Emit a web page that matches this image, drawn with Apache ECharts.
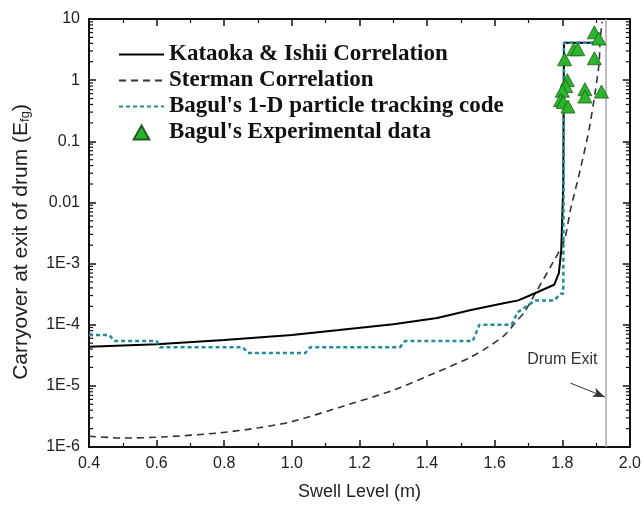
<!DOCTYPE html>
<html>
<head>
<meta charset="utf-8">
<script src="https://cdn.jsdelivr.net/npm/echarts@6/dist/echarts.min.js"></script>
<style>
  html, body { margin: 0; padding: 0; background: #fff; }
  #chart { width: 644px; height: 507px; }
</style>
</head>
<body>
<div id="chart"></div>
<script>
// Swell level (m) vs. carryover at the drum exit, log scale
const xMin = 0.4, xMax = 2.0, xStep = 0.2;
const yMin = 1e-6, yMax = 10;
const xTickLabels = ['0.4', '0.6', '0.8', '1.0', '1.2', '1.4', '1.6', '1.8', '2.0'];
const yTickLabels = ['1E-6', '1E-5', '1E-4', '1E-3', '0.01', '0.1', '1', '10'];

const kataokaIshii = [
  [0.40, 4.37e-5], [0.60, 4.8e-5], [0.80, 5.6e-5], [1.00, 6.8e-5], [1.14, 8.2e-5],
  [1.30, 1.02e-4], [1.43, 1.29e-4], [1.53, 1.74e-4], [1.63, 2.26e-4], [1.67, 2.5e-4],
  [1.726, 3.4e-4], [1.776, 4.5e-4], [1.79, 7.0e-4], [1.797, 1.66e-3], [1.803, 2.0e-2],
  [1.805, 4.07], [1.924, 4.07]
];

const sterman = [
  [0.40, 1.5e-6], [0.50, 1.4e-6], [0.62, 1.46e-6], [0.785, 1.7e-6], [0.903, 2.06e-6],
  [1.00, 2.6e-6], [1.138, 4.4e-6], [1.30, 8.5e-6], [1.432, 1.7e-5], [1.53, 2.96e-5],
  [1.58, 4.3e-5], [1.63, 6.8e-5], [1.668, 1.2e-4], [1.688, 1.6e-4], [1.726, 3.7e-4],
  [1.765, 8.8e-4], [1.806, 2.4e-3], [1.824, 7.5e-3], [1.853, 3.4e-2], [1.879, 0.153],
  [1.897, 0.62], [1.909, 1.9], [1.912, 4.5], [1.918, 9.0]
];

const bagulTracking = [
  [0.40, 6.8e-5], [0.46, 6.8e-5], [0.475, 5.4e-5], [0.60, 5.4e-5], [0.61, 4.3e-5],
  [0.855, 4.3e-5], [0.87, 3.45e-5], [1.04, 3.45e-5], [1.055, 4.3e-5], [1.32, 4.3e-5],
  [1.335, 5.4e-5], [1.535, 5.4e-5], [1.555, 1.0e-4], [1.65, 1.0e-4], [1.668, 1.6e-4],
  [1.72, 2.5e-4], [1.776, 2.5e-4], [1.795, 3.2e-4], [1.803, 3.2e-4], [1.805, 4.07],
  [1.924, 4.07]
];

const bagulExperiment = [
  [1.895, 6.05], [1.908, 4.8], [1.834, 3.2], [1.846, 3.2], [1.807, 2.19], [1.895, 2.28],
  [1.815, 1.0], [1.810, 0.80], [1.800, 0.67], [1.867, 0.71], [1.916, 0.65], [1.867, 0.54],
  [1.795, 0.47], [1.803, 0.44], [1.817, 0.37]
];

// Drum exit position and its annotation
const drumExitX = 1.926;
const drumExitArrow = [[1.824, 1.11e-5], [1.926, 6.6e-6]];
const drumExitText = [1.80, 2.65e-5];

// Minor log ticks 2..9 within each decade
const minorLogTicks = [];
for (let e = -6; e < 1; e++) {
  for (let m = 2; m <= 9; m++) minorLogTicks.push([xMin, m * Math.pow(10, e)]);
}

const textColor = '#222';
const frameColor = '#111';
const sansFont = '"Liberation Sans", Arial, sans-serif';
const serifFont = '"Liberation Serif", "Times New Roman", serif';
const triangleIcon = 'path://M5,0 L10,9 L0,9 Z';

function xLabel(v) {
  const i = Math.round((v - xMin) / xStep);
  return xTickLabels[i] !== undefined ? xTickLabels[i] : '';
}
function yLabel(v) {
  const i = Math.round(Math.log10(v)) - Math.round(Math.log10(yMin));
  return yTickLabels[i] !== undefined ? yTickLabels[i] : '';
}

const chart = echarts.init(document.getElementById('chart'), null, { renderer: 'canvas' });

const baseX = {
  type: 'value', min: xMin, max: xMax, interval: xStep,
  axisLine: { show: true, onZero: false, lineStyle: { color: frameColor, width: 2 } },
  axisTick: { show: true, inside: true, length: 7, lineStyle: { color: frameColor, width: 1.5 } },
  minorTick: { show: true, splitNumber: 2, length: 4, lineStyle: { color: frameColor, width: 1.2 } },
  splitLine: { show: false }
};
const baseY = {
  type: 'log', logBase: 10, min: yMin, max: yMax, splitNumber: 7,
  axisLine: { show: true, onZero: false, lineStyle: { color: frameColor, width: 2 } },
  axisTick: { show: true, inside: true, length: 7, lineStyle: { color: frameColor, width: 1.5 } },
  splitLine: { show: false }
};

const hiddenSymbol = { opacity: 0 };

chart.setOption({
  animation: false,
  backgroundColor: '#fff',
  grid: { left: 89, right: 11, top: 19, bottom: 60, containLabel: false },
  legend: {
    data: [
      { name: 'Kataoka & Ishii Correlation', itemStyle: hiddenSymbol },
      { name: 'Sterman Correlation', itemStyle: hiddenSymbol },
      { name: "Bagul's 1-D particle tracking code", itemStyle: hiddenSymbol },
      { name: "Bagul's Experimental data", icon: triangleIcon }
    ],
    orient: 'vertical', left: 113, top: 38,
    itemWidth: 45, itemHeight: 14, itemGap: 3,
    symbolKeepAspect: true,
    selectedMode: false,
    textStyle: { fontFamily: serifFont, fontWeight: 'bold', fontSize: 23, color: '#111', lineHeight: 22 }
  },
  xAxis: [
    Object.assign({}, baseX, {
      position: 'bottom',
      name: 'Swell Level (m)', nameLocation: 'middle', nameGap: 36,
      nameTextStyle: { fontFamily: sansFont, fontSize: 18, color: textColor },
      axisLabel: { show: true, margin: 9, formatter: xLabel,
                   fontFamily: sansFont, fontSize: 16, color: textColor }
    }),
    Object.assign({}, baseX, { position: 'top', axisLabel: { show: false } })
  ],
  yAxis: [
    Object.assign({}, baseY, {
      position: 'left',
      name: '{a|Carryover at exit of drum (E}{sub|fg}{a|)}',
      nameLocation: 'middle', nameGap: 57, nameRotate: 90,
      nameTextStyle: {
        fontFamily: sansFont, fontSize: 21, color: textColor,
        padding: [0, 18, 0, 0],
        rich: {
          a: { fontFamily: sansFont, fontSize: 21, color: textColor, lineHeight: 21, verticalAlign: 'top' },
          sub: { fontFamily: sansFont, fontSize: 13, color: textColor, lineHeight: 13,
                 verticalAlign: 'bottom', padding: [9, 0, 0, 0] }
        }
      },
      axisLabel: { show: true, margin: 9, formatter: yLabel,
                   fontFamily: sansFont, fontSize: 16, color: textColor }
    }),
    Object.assign({}, baseY, { position: 'right', axisLabel: { show: false } })
  ],
  series: [
    {
      name: 'Kataoka & Ishii Correlation', type: 'line', data: kataokaIshii,
      symbol: 'none', smooth: false, z: 3,
      lineStyle: { color: '#000', width: 2 }, itemStyle: { color: '#000' }
    },
    {
      name: 'Sterman Correlation', type: 'line', data: sterman,
      symbol: 'none', smooth: 0.25, z: 2,
      lineStyle: { color: '#333', width: 1.6, type: [7, 5] }, itemStyle: { color: '#333' },
      markLine: {
        silent: true, symbol: ['none', 'none'], animation: false,
        label: { show: false },
        lineStyle: { color: '#aaa', width: 1.5, type: 'solid' },
        data: [{ xAxis: drumExitX }]
      }
    },
    {
      name: "Bagul's 1-D particle tracking code", type: 'line', data: bagulTracking,
      symbol: 'none', smooth: false, z: 4,
      lineStyle: { color: '#1f8d9c', width: 2.5, type: [4, 3] }, itemStyle: { color: '#1f8d9c' },
      markLine: {
        silent: true, symbol: ['none', 'arrow'], symbolSize: [7, 12], animation: false,
        label: { show: false },
        lineStyle: { color: '#333', width: 1, type: 'solid' },
        data: [[{ coord: drumExitArrow[0] }, { coord: drumExitArrow[1] }]]
      },
      markPoint: {
        silent: true, symbol: 'circle', symbolSize: 0, animation: false,
        label: { show: true, position: 'inside', formatter: 'Drum Exit',
                 fontFamily: sansFont, fontSize: 16, color: '#333' },
        data: [{ coord: drumExitText }]
      }
    },
    {
      name: "Bagul's Experimental data", type: 'scatter', data: bagulExperiment,
      symbol: 'triangle', symbolSize: [14, 13], z: 6,
      itemStyle: { color: '#2bb52b', borderColor: '#1d5c1d', borderWidth: 0.8, opacity: 1 }
    },
    {
      name: 'minor-log-ticks', type: 'custom', data: minorLogTicks, silent: true, z: 1,
      clip: false,
      renderItem: function (params, api) {
        const v = api.value(1);
        const l = api.coord([xMin, v]);
        const r = api.coord([xMax, v]);
        const st = { stroke: frameColor, lineWidth: 1.2 };
        return {
          type: 'group',
          children: [
            { type: 'line', shape: { x1: l[0], y1: l[1], x2: l[0] + 4, y2: l[1] }, style: st },
            { type: 'line', shape: { x1: r[0] - 4, y1: r[1], x2: r[0], y2: r[1] }, style: st }
          ]
        };
      }
    }
  ]
});
</script>
</body>
</html>
